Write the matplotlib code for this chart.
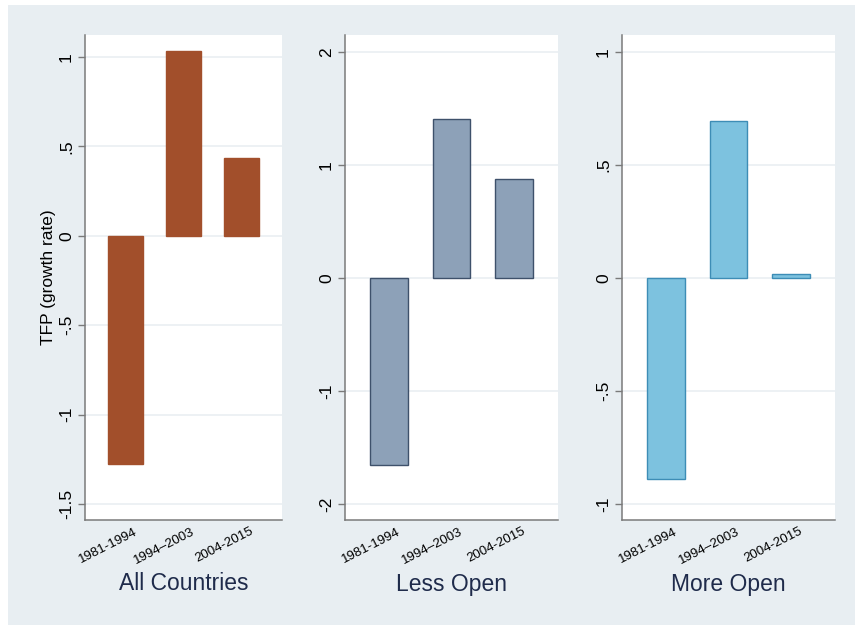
import numpy as np
import matplotlib
matplotlib.use('Agg')
import matplotlib.pyplot as plt
from matplotlib.patches import Rectangle
import matplotlib.transforms as mtransforms

plt.rcParams['font.family'] = ['Liberation Sans', 'DejaVu Sans']

# Data
#####################################################
periods = ['1981-1994', '1994\u20132003', '2004-2015']
panel_titles = ['All Countries', 'Less Open', 'More Open']

tfp_all = [-1.275, 1.034, 0.433]
tfp_less = [-1.655, 1.407, 0.876]
tfp_more = [-0.889, 0.695, 0.018]

yticks_all = [-1.5, -1, -0.5, 0, 0.5, 1]
ylabels_all = ['-1.5', '-1', '-.5', '0', '.5', '1']
yticks_less = [-2, -1, 0, 1, 2]
ylabels_less = ['-2', '-1', '0', '1', '2']
yticks_more = [-1, -0.5, 0, 0.5, 1]
ylabels_more = ['-1', '-.5', '0', '.5', '1']

# Style
#####################################################
bg = '#e8eef2'
grid_col = '#eaeff2'
axis_col = '#7a7a7a'
title_col = '#1f2b4b'

panels = [
  dict(vals=tfp_all, ticks=yticks_all, labels=ylabels_all, ylim=(-1.589, 1.123),
       fc='#a24f2b', ec='#a24f2b', left=85),
  dict(vals=tfp_less, ticks=yticks_less, labels=ylabels_less, ylim=(-2.142, 2.150),
       fc='#8da1b8', ec='#3e516b', left=345),
  dict(vals=tfp_more, ticks=yticks_more, labels=ylabels_more, ylim=(-1.071, 1.075),
       fc='#7dc2df', ec='#3d8db6', left=622),
]
widths = [197, 213, 213]

W, H = 862, 628
fig = plt.figure(figsize=(W/100, H/100), dpi=100)
fig.patch.set_facecolor('white')
fig.patches.append(Rectangle((8/W, 1-625/H), (855-8)/W, (625-5)/H,
                             transform=fig.transFigure, facecolor=bg,
                             edgecolor='none', zorder=-10))

top, bottom = 35, 520
x = np.arange(1, len(periods)+1)

for i, p in enumerate(panels):
  ax = fig.add_axes([p['left']/W, 1-bottom/H, widths[i]/W, (bottom-top)/H])
  ax.set_facecolor('white')
  ax.bar(x, p['vals'], width=0.6, color=p['fc'], edgecolor=p['ec'],
         linewidth=1.0, zorder=3)
  ax.set_xlim(0.3, 3.7)
  ax.set_ylim(*p['ylim'])
  ax.set_yticks(p['ticks'])
  ax.set_yticklabels(p['labels'], rotation=90, va='center', fontsize=12.5)
  ax.yaxis.grid(True, color=grid_col, linewidth=1.2, zorder=0)
  ax.set_axisbelow(True)
  for s in ['top', 'right']:
    ax.spines[s].set_visible(False)
  for s in ['left', 'bottom']:
    ax.spines[s].set_color(axis_col)
    ax.spines[s].set_linewidth(1.1)
  ax.tick_params(axis='y', length=5, color=axis_col, width=1, pad=3, labelcolor='black')
  ax.tick_params(axis='x', length=0, pad=4)
  ax.set_xticks(x)
  ax.set_xticklabels(periods, rotation=27, ha='right', va='top',
                     rotation_mode='anchor', fontsize=9.5)
  offset = mtransforms.ScaledTranslation(0.08, 0, fig.dpi_scale_trans)
  for lab in ax.get_xticklabels():
    lab.set_transform(lab.get_transform() + offset)
  if i == 0:
    ax.set_ylabel('TFP (growth rate)', fontsize=12.5)
    ax.yaxis.set_label_coords(-0.148, 0.5)
  cx = (p['left'] + widths[i]/2)/W
  fig.text(cx, 1-584/H, panel_titles[i], ha='center', va='center',
           fontsize=16.5, color=title_col)

fig.savefig('out.png', dpi=100)
